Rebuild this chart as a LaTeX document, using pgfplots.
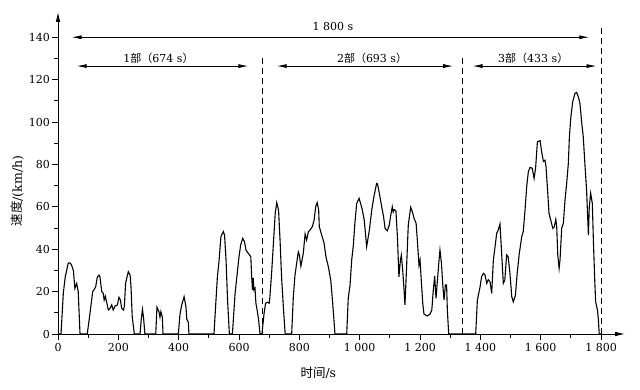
\documentclass[border=0pt]{standalone}
\usepackage{fontspec}
\setmainfont{DejaVu Serif}
\newfontfamily\cjk{Noto Sans CJK SC}
\usepackage{pgfplots}
\pgfplotsset{compat=1.18}
\usetikzlibrary{arrows.meta}
\begin{document}
\begin{tikzpicture}[font=\fontsize{11}{13}\selectfont]
\useasboundingbox (-58pt,-55pt) rectangle (582pt,334pt);
\begin{axis}[
  at={(0,0)}, anchor=south west,
  scale only axis, width=567.2pt, height=322.2pt,
  xmin=0, xmax=1880, ymin=0, ymax=152,
  axis lines=left,
  axis line style={line width=0.9pt},
  x axis line style={-{Latex[length=10pt,width=4.5pt]}},
  y axis line style={-{Latex[length=10pt,width=4.5pt]}},
  tick align=outside, major tick length=5.5pt, minor tick length=3.5pt,
  tick style={line width=0.8pt, black},
  xtick={0,200,...,1800},
  xticklabels={0,200,400,600,800,1\ 000,1\ 200,1\ 400,1\ 600,1\ 800},
  minor xtick={100,300,...,1700},
  ytick={0,20,...,140},
  minor ytick={10,30,...,130},
  yticklabel style={inner xsep=2.5pt},
  /pgf/number format/assume math mode=true,
  xlabel={{\cjk 时间}/s},
  ylabel={{\cjk 速度}/(km/h)},
  xlabel style={at={(axis description cs:0.459,-0.121)}, anchor=center, font=\fontsize{12.5}{14}\selectfont},
  ylabel style={at={(axis description cs:-0.0714,0.444)}, anchor=center, font=\fontsize{12.5}{14}\selectfont},
  clip=false,
]
\addplot[black, line width=1.1pt] coordinates {
(0,0)(10,0)(17.6,19.2)(24,27)(29,30.2)(33,33)(36.5,33.6)(41,33.4)(45,32.5)(51,30)(56,21.5)(62,23.9)(65,21.5)(67,20)(73,0)
(97,0)(106,9.7)(115,20)(120,21)(125,22.3)(130,26.7)(136,27.8)(139,27)(145,20)(150,19.2)(153,16)(157,17.8)(162,14.5)(167,11.3)(172,12)(178,13.7)(183,11.3)(189,13.2)(197,13.7)(202,17.3)(207,16)(211,12.1)(217,11.3)(220,13)(224,23.9)(229,27)(233,29.4)(239,27.8)(242,22.3)(246,8.2)(253,0)
(272,0)(276,7)(280,11.6)(284,7)(288,0)
(324,0)(328,12.6)(335,10.4)(338,7.9)(341,10.5)(346,7.9)(348,0)
(399,0)(404,9)(410,13.7)(418,17.6)(424,13)(427,6.9)(432,5.5)(434,0)
(517,0)(523,14.5)(528,26.3)(534,34.9)(537,40.4)(540,45.9)(548,48.3)(552,46.7)(557,34.9)(562,16)(568,0)
(578,0)(587,19.2)(594,28.6)(600,36.5)(605.5,42)(612,45.1)(618,43.6)(623,39.6)(631,38)(639,36.5)(642,27)(644.5,20.8)(647,26.3)(649.5,20.8)(653,21.6)(656,14.5)(660,11.3)(665,6.6)(669.5,0)
(676,0)(683,9.7)(688,14.5)(694,15)(700,14.5)(702,17)(708,28.6)(714,42.8)(720,56.9)(725,62)(731,58.5)(736,44.3)(741,27)(747,12.6)(753,0)
(774.5,0)(780,17.6)(785.5,27.8)(791,33.3)(796.5,38.8)(800,37.3)(805,32)(813,38)(819,47.2)(824,44.3)(830,48.3)(835,49)(843,50.6)(849,53.8)(854,60)(859,62)(864,58.5)(866,50.6)(874,46.7)(882,42.8)(888,36.5)(896,31.8)(904,25.5)(910.5,14.5)(918,0)
(957,0)(962,16.8)(968,23.1)(973.5,34.9)(979,42)(984,52.2)(990,61.6)(998,64)(1003,61.6)(1008,59)(1015,53.8)(1023,41.2)(1032,49)(1040,58.5)(1047,64.8)(1056,71)(1059,70.8)(1065,66.4)(1073,60)(1079,55.4)(1084,49.9)(1091.5,48.7)(1098,51.4)(1104,56.9)(1108,60)(1111,57.6)(1114,58.6)(1120,58.2)(1125,45.9)(1130,27)(1135,34.9)(1138,37.2)(1142.5,30.2)(1147,20.8)(1150,13.7)(1155,30.2)(1161,51.4)(1169,59.8)(1176,57)(1180,54.6)(1187,52.2)(1191,44.3)(1196.5,32.5)(1200,34.9)(1204,25.5)(1209,14.5)(1213,9.4)(1224,8.5)(1233,9.4)(1239,11.3)(1244,20.8)(1248.5,27.4)(1253,16.8)(1257.5,25.2)(1263,34.9)(1266,39.6)(1271,33.3)(1275,23.9)(1279.5,16)(1284,23.1)(1288,23.1)(1290.5,11.3)(1295,0)
(1384.5,0)(1390,16)(1399,22.3)(1404,27)(1410,28.6)(1415,28)(1421,23.9)(1426,25.6)(1432,24.6)(1437.5,19.2)(1443,34.9)(1448,40.4)(1454,47.5)(1459,49)(1465,51.9)(1470.5,38)(1476,23.9)(1481,25.5)(1487,37.3)(1492,36.5)(1498,28.6)(1504,17.6)(1509,15.2)(1516,18.2)(1522,28.6)(1529,38)(1537,45.9)(1542,48.3)(1548,58.5)(1553.5,69.5)(1559,76.6)(1564.5,78.6)(1572,78.2)(1578,73.4)(1583,78.2)(1589,90.7)(1598,91.2)(1603,86)(1609,81.4)(1614,82)(1617.5,79)(1622,69.5)(1627.5,56.9)(1633,53.8)(1640,49.9)(1645,50.6)(1650,54.1)(1653,50.6)(1656.5,37.3)(1661,31)(1664,35)(1669.5,49.9)(1675,52.2)(1680.5,63.2)(1686,71)(1691.5,80.5)(1695,93)(1700,102.5)(1706,109.6)(1713.5,113.5)(1719,114)(1724.5,112)(1730,108.8)(1736,99.4)(1741,93)(1747,78.9)(1752,67.9)(1756,53.8)(1758,46.7)(1761,60)(1765.5,66.4)(1771,61.6)(1774.5,44.3)(1779,25.5)(1782,15.2)(1788,11.3)(1791,7)(1794,0)(1800,0)
};
% dashed separators
\addplot[black, line width=0.9pt, dash pattern=on 6pt off 4pt] coordinates {(677,0)(677,130.5)};
\addplot[black, line width=0.9pt, dash pattern=on 6pt off 4pt] coordinates {(1340,0)(1340,130.5)};
\addplot[black, line width=0.9pt, dash pattern=on 6pt off 4pt] coordinates {(1802,0)(1802,144.7)};
% arrows
\draw[line width=0.8pt, {Latex[length=10pt,width=4pt]}-{Latex[length=10pt,width=4pt]}] (axis cs:45,140) -- (axis cs:1761,140);
\draw[line width=0.8pt, {Latex[length=10pt,width=4pt]}-{Latex[length=10pt,width=4pt]}] (axis cs:62,126.4) -- (axis cs:631,126.4);
\draw[line width=0.8pt, {Latex[length=10pt,width=4pt]}-{Latex[length=10pt,width=4pt]}] (axis cs:725,126.4) -- (axis cs:1310,126.4);
\draw[line width=0.8pt, {Latex[length=10pt,width=4pt]}-{Latex[length=10pt,width=4pt]}] (axis cs:1374,126.4) -- (axis cs:1785,126.4);
\node at (axis cs:911,145.3) {1\ 800 s};
\node at (axis cs:333,130) {1{\cjk 部（}674 s{\cjk ）}};
\node at (axis cs:1041,130) {2{\cjk 部（}693 s{\cjk ）}};
\node at (axis cs:1575,130) {3{\cjk 部（}433 s{\cjk ）}};
\end{axis}
\end{tikzpicture}
\end{document}
